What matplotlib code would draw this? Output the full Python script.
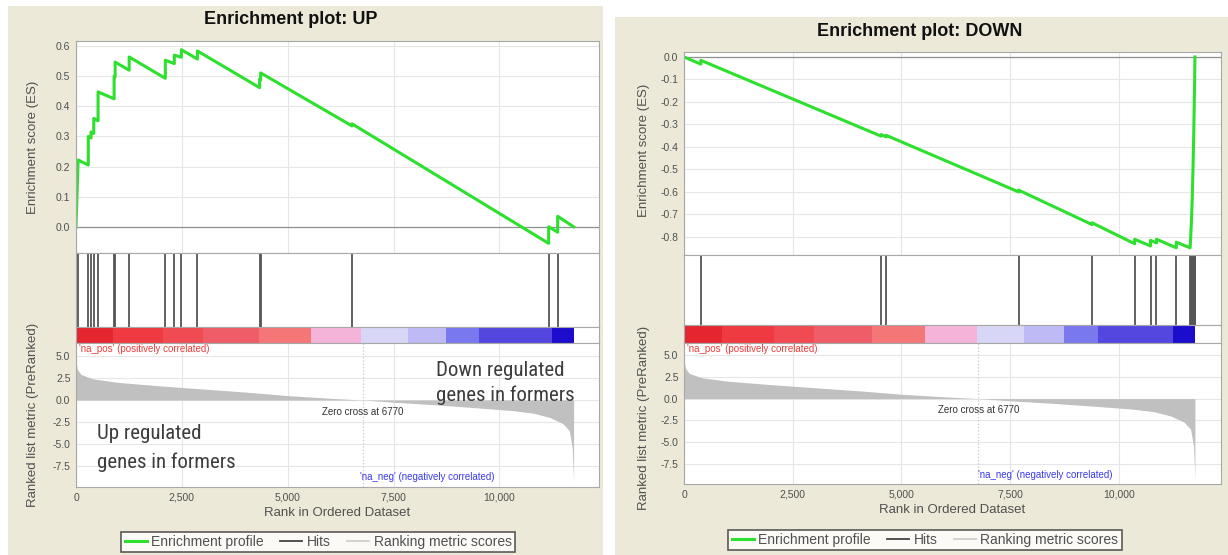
import matplotlib
matplotlib.use('Agg')
import matplotlib.pyplot as plt
from matplotlib import font_manager
from matplotlib.patches import Rectangle
from matplotlib.lines import Line2D

# ---- data ----
n_genes = 11750
zero_cross = 6770
rank_ticks = [0, 2500, 5000, 7500, 10000]
rank_tick_labels = ['0', '2,500', '5,000', '7,500', '10,000']

up_es_ticks = [0.0, 0.1, 0.2, 0.3, 0.4, 0.5, 0.6]
down_es_ticks = [0.0, -0.1, -0.2, -0.3, -0.4, -0.5, -0.6, -0.7, -0.8]
metric_ticks = [5.0, 2.5, 0.0, -2.5, -5.0, -7.5]

up_hits = [0, 50, 290, 355, 420, 521, 900, 924, 1256, 2109, 2322, 2488, 2867,
           4336, 4360, 6517, 11161, 11374]
up_es_rank = [0, 50, 290, 290, 355, 355, 420, 420, 521, 521, 900, 900, 924, 924,
              1256, 1256, 2109, 2109, 2322, 2322, 2488, 2488, 2867, 2867,
              4336, 4336, 4360, 4360, 6517, 6517, 11161, 11161, 11374, 11374, 11750]
up_es = [0, 0.222, 0.205, 0.30, 0.295, 0.315, 0.31, 0.36, 0.352, 0.448, 0.425, 0.50,
         0.498, 0.547, 0.52, 0.564, 0.493, 0.553, 0.542, 0.57, 0.563, 0.588,
         0.557, 0.584, 0.462, 0.49, 0.488, 0.511, 0.335, 0.342, -0.055, 0.0,
         -0.018, 0.035, 0.0]

down_hits = [387, 4533, 4647, 7699, 9385, 10364, 10729, 10866, 11322, 11640, 11655,
             11668, 11680, 11690, 11700, 11708, 11716, 11723, 11730, 11736, 11741,
             11745, 11749]
down_es_rank = [0, 387, 387, 4533, 4533, 4647, 4647, 7699, 7699, 9385, 9385,
                10364, 10364, 10729, 10729, 10866, 10866, 11322, 11322, 11640,
                11668, 11690, 11708, 11723, 11736, 11745, 11750]
down_es = [0, -0.032, -0.015, -0.352, -0.345, -0.355, -0.348, -0.600, -0.592,
           -0.745, -0.737, -0.83, -0.81, -0.84, -0.815, -0.826, -0.81, -0.848,
           -0.823, -0.848, -0.74, -0.62, -0.48, -0.34, -0.2, -0.09, 0.0]

metric_rank = [0, 30, 120, 400, 1000, 2000, 3000, 4000, 5000, 6000, 6770, 7500,
               8500, 9500, 10300, 10800, 11200, 11500, 11650, 11720, 11750]
metric_val = [4.5, 3.5, 2.9, 2.4, 2.0, 1.6, 1.25, 0.9, 0.5, 0.2, 0.0, -0.25,
              -0.55, -0.9, -1.2, -1.5, -2.0, -2.7, -3.5, -5.5, -9.3]

bar_edges = [0, 870, 2060, 3000, 4330, 5540, 6740, 7830, 8740, 9510, 11240, 11750]
bar_colors = ['#e3262f', '#ee3a40', '#f04a52', '#ef5d68', '#f47677', '#f6b3da',
              '#d8d6f6', '#bdbaf6', '#7a78ee', '#5447e0', '#1c0ccc']

W, H = 1228, 555
plt.rcParams['font.family'] = ['Liberation Sans', 'DejaVu Sans']
fig = plt.figure(figsize=(W / 100, H / 100), dpi=100)
beige = '#ece9d8'
green = '#2ee02e'
txt = '#505050'

# a condensed face for the hand-added notes, if one is installed
narrow_file = None
for want in ['Liberation Sans Narrow', 'Roboto Condensed', 'Open Sans Condensed',
             'DejaVu Sans']:
    for f in font_manager.fontManager.ttflist:
        if f.name == want and f.style == 'normal' and f.weight in (400, 'normal') \
                and (want != 'DejaVu Sans' or f.stretch == 'condensed'):
            narrow_file = f.fname
            break
    if narrow_file:
        break
if narrow_file:
    note_font = font_manager.FontProperties(fname=narrow_file, size=15)
    if 'DejaVu' in narrow_file:
        note_font.set_size(13.5)
else:
    note_font = font_manager.FontProperties(family='Liberation Sans', size=13.5)


def px_axes(x0, y0, x1, y1):
    return fig.add_axes([x0 / W, 1 - y1 / H, (x1 - x0) / W, (y1 - y0) / H])


def style(ax):
    ax.set_xlim(0, 12350)
    for s in ax.spines.values():
        s.set_color('#a8a8a8')
        s.set_linewidth(0.8)
    ax.tick_params(length=0, labelsize=7.5, colors=txt, pad=4)
    ax.set_axisbelow(True)


def panel(x0, x1, y_es, y_hits, y_bar, y_met, y_end, es_rank, es_vals, es_ticks,
          es_lim, met_lim, hits):
    # enrichment score
    ax_es = px_axes(x0, y_es, x1, y_hits)
    style(ax_es)
    ax_es.set_ylim(es_lim)
    ax_es.set_xticks(rank_ticks)
    ax_es.set_xticklabels([])
    ax_es.set_yticks(es_ticks)
    ax_es.set_yticklabels(['%.1f' % t for t in es_ticks])
    ax_es.grid(True, color='#e6e6e6', lw=0.8)
    ax_es.axhline(0, color='#909090', lw=0.9)
    ax_es.plot(es_rank, es_vals, color=green, lw=2.2)

    # hits
    ax_hits = px_axes(x0, y_hits, x1, y_bar)
    style(ax_hits)
    ax_hits.set_ylim(0, 1)
    ax_hits.set_xticks([])
    ax_hits.set_yticks([])
    ax_hits.vlines(hits, 0, 1, color='#555555', lw=1.3)

    # ranked list colour bar
    ax_bar = px_axes(x0, y_bar, x1, y_met)
    style(ax_bar)
    ax_bar.set_ylim(0, 1)
    ax_bar.set_xticks([])
    ax_bar.set_yticks([])
    ax_bar.broken_barh([(bar_edges[i], bar_edges[i + 1] - bar_edges[i])
                        for i in range(len(bar_colors))], (0, 1),
                       facecolors=bar_colors)

    # ranked list metric
    ax_met = px_axes(x0, y_met, x1, y_end)
    style(ax_met)
    ax_met.set_ylim(met_lim)
    ax_met.set_yticks(metric_ticks)
    ax_met.set_yticklabels(['%.1f' % t for t in metric_ticks])
    ax_met.set_xticks(rank_ticks)
    ax_met.set_xticklabels(rank_tick_labels)
    ax_met.grid(True, color='#e6e6e6', lw=0.8)
    ax_met.fill_between(metric_rank, metric_val, 0, color='#c0c0c0', lw=0)
    ax_met.axvline(zero_cross, color='#c8c8c8', lw=0.9, ls=':')
    ax_met.text(60, met_lim[1] - 0.7, "'na_pos' (positively correlated)",
                color='#f03c3c', fontsize=7, va='center')
    ax_met.text(8300, -8.8, "'na_neg' (negatively correlated)",
                color='#3a3af0', fontsize=7, ha='center', va='center')
    ax_met.text(zero_cross, -1.35, 'Zero cross at 6770', color='#333333',
                fontsize=7, ha='center', va='center')
    ax_met.set_xlabel('Rank in Ordered Dataset', fontsize=9.5, color=txt,
                      labelpad=3)
    return ax_es, ax_met


# beige GSEA background panels
fig.add_artist(Rectangle((8 / W, 0), 595 / W, 1 - 6 / H, transform=fig.transFigure,
                         facecolor=beige, edgecolor='none', zorder=0))
fig.add_artist(Rectangle((615 / W, 0), 613 / W, 1 - 17 / H,
                         transform=fig.transFigure, facecolor=beige,
                         edgecolor='none', zorder=0))

panel(76, 599, 41, 253, 327, 343, 487, up_es_rank, up_es, up_es_ticks,
      (-0.087, 0.617), (-9.89, 6.48), up_hits)
panel(684, 1221, 52, 255, 325, 343, 484, down_es_rank, down_es, down_es_ticks,
      (-0.88, 0.022), (-9.8, 6.38), down_hits)

fig.text(291 / W, 1 - 20 / H, 'Enrichment plot: UP', ha='center', va='center',
         fontsize=13, weight='bold', color='#111111')
fig.text(920 / W, 1 - 31 / H, 'Enrichment plot: DOWN', ha='center', va='center',
         fontsize=13, weight='bold', color='#111111')

for x, y, s in [(33, 147, 'Enrichment score (ES)'),
                (33, 415, 'Ranked list metric (PreRanked)'),
                (644, 150, 'Enrichment score (ES)'),
                (644, 418, 'Ranked list metric (PreRanked)')]:
    fig.text(x / W, 1 - y / H, s, rotation=90, ha='center', va='center',
             fontsize=9.5, color=txt)

fig.text(97 / W, 1 - 448 / H, 'Up regulated\ngenes in formers', ha='left',
         va='center', fontproperties=note_font, color='#3c3c3c', linespacing=1.55)
fig.text(436 / W, 1 - 383 / H, 'Down regulated\ngenes in formers', ha='left',
         va='center', fontproperties=note_font, color='#3c3c3c', linespacing=1.4)

handles = [Line2D([], [], color=green, lw=2.2),
           Line2D([], [], color='#444444', lw=1.3),
           Line2D([], [], color='#cfcfcf', lw=1.3)]
labels = ['Enrichment profile', 'Hits', 'Ranking metric scores']
for cx, cy in [(318, 542), (925, 540)]:
    leg = fig.legend(handles, labels, loc='center', bbox_to_anchor=(cx / W, 1 - cy / H),
                     ncol=3, fontsize=10, frameon=True, fancybox=False,
                     handlelength=1.6, handletextpad=0.3, columnspacing=1.2,
                     borderpad=0.25, labelcolor=txt)
    leg.get_frame().set_edgecolor('#333333')
    leg.get_frame().set_linewidth(1.2)

fig.savefig('out.png', dpi=100)
